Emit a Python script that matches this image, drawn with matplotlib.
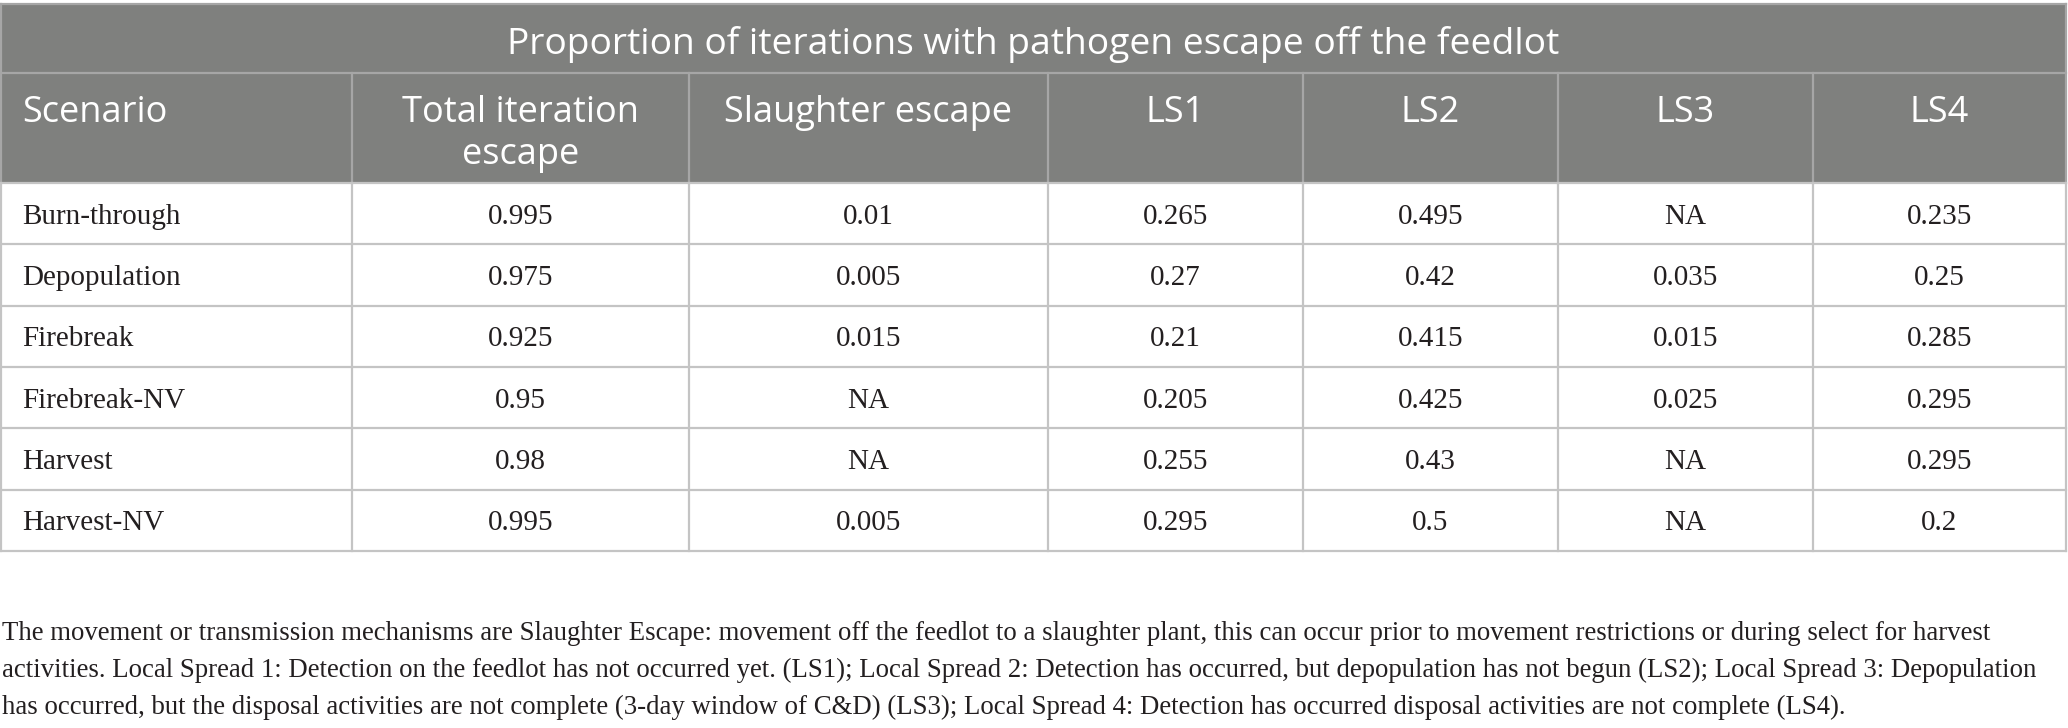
import matplotlib
matplotlib.use("Agg")
import matplotlib.pyplot as plt
from matplotlib.patches import Rectangle

# ---- data ----
title = "Proportion of iterations with pathogen escape off the feedlot"
columns = ["Scenario", "Total iteration\nescape", "Slaughter escape", "LS1", "LS2", "LS3", "LS4"]
scenarios = ["Burn-through", "Depopulation", "Firebreak", "Firebreak-NV", "Harvest", "Harvest-NV"]
total_escape = [0.995, 0.975, 0.925, 0.95, 0.98, 0.995]
slaughter_escape = [0.01, 0.005, 0.015, None, None, 0.005]
ls1 = [0.265, 0.27, 0.21, 0.205, 0.255, 0.295]
ls2 = [0.495, 0.42, 0.415, 0.425, 0.43, 0.5]
ls3 = [None, 0.035, 0.015, 0.025, None, None]
ls4 = [0.235, 0.25, 0.285, 0.295, 0.295, 0.2]
footnote_lines = [
    "The movement or transmission mechanisms are Slaughter Escape: movement off the feedlot to a slaughter plant, this can occur prior to movement restrictions or during select for harvest",
    "activities. Local Spread 1: Detection on the feedlot has not occurred yet. (LS1); Local Spread 2: Detection has occurred, but depopulation has not begun (LS2); Local Spread 3: Depopulation",
    "has occurred, but the disposal activities are not complete (3-day window of C&D) (LS3); Local Spread 4: Detection has occurred disposal activities are not complete (LS4).",
]

def fmt(v):
    return "NA" if v is None else f"{v:g}"

series = [total_escape, slaughter_escape, ls1, ls2, ls3, ls4]

# ---- layout (pixels) ----
W, H = 2068, 728
col_edges = [1, 352, 689, 1048, 1303, 1558, 1813, 2066]
y_top, y_title, y_head = 4, 73, 183
row_h = 61.3
n_rows = len(scenarios)
y_bottom = y_head + n_rows * row_h

HEAD_BG = "#7f807e"
HEAD_LINE = "#a6a6a6"
BODY_LINE = "#c4c4c4"
TXT = "#231f20"
SANS = ["Open Sans", "DejaVu Sans"]
SERIF = ["Liberation Serif", "DejaVu Serif"]

fig = plt.figure(figsize=(W / 100, H / 100), dpi=100)
ax = fig.add_axes([0, 0, 1, 1])
ax.set_xlim(0, W)
ax.set_ylim(H, 0)
ax.axis("off")
fig.patch.set_facecolor("white")

renderer = fig.canvas.get_renderer()

def fit(t, target_w):
    bb = t.get_window_extent(renderer=renderer)
    t.set_fontsize(t.get_fontsize() * target_w / bb.width)

# header background
ax.add_patch(Rectangle((col_edges[0], y_top), col_edges[-1] - col_edges[0], y_head - y_top,
                       facecolor=HEAD_BG, edgecolor="none", zorder=1))

# grid lines
lw = 1.6
ax.plot([col_edges[0], col_edges[-1]], [y_top, y_top], color=HEAD_LINE, lw=lw, zorder=2)
ax.plot([col_edges[0], col_edges[-1]], [y_title, y_title], color=HEAD_LINE, lw=lw, zorder=2)
for x in col_edges[1:-1]:
    ax.plot([x, x], [y_title, y_head], color=HEAD_LINE, lw=lw, zorder=2)
    ax.plot([x, x], [y_head, y_bottom], color=BODY_LINE, lw=lw, zorder=2)
for x in (col_edges[0], col_edges[-1]):
    ax.plot([x, x], [y_top, y_head], color=HEAD_LINE, lw=lw, zorder=2)
    ax.plot([x, x], [y_head, y_bottom], color=BODY_LINE, lw=lw, zorder=2)
for i in range(n_rows + 1):
    y = y_head + i * row_h
    ax.plot([col_edges[0], col_edges[-1]], [y, y], color=BODY_LINE, lw=lw, zorder=2)

# title
t = ax.text((col_edges[0] + col_edges[-1]) / 2, 54, title, ha="center", va="baseline",
            color="white", family=SANS, fontsize=25, zorder=3)
fit(t, 1057)

# column headers
head_fs = 26
for j, name in enumerate(columns):
    lines = name.split("\n")
    for k, ln in enumerate(lines):
        if j == 0:
            x, ha = col_edges[0] + 21, "left"
        else:
            x, ha = (col_edges[j] + col_edges[j + 1]) / 2, "center"
        ax.text(x, 122 + k * 42, ln, ha=ha, va="baseline", color="white",
                family=SANS, fontsize=head_fs, zorder=3)

# body
body_fs = 21
for i, sc in enumerate(scenarios):
    yb = y_head + i * row_h + row_h / 2 + 10
    ax.text(col_edges[0] + 21, yb, sc, ha="left", va="baseline", color=TXT,
            family=SERIF, fontsize=body_fs, zorder=3)
    for j, s in enumerate(series):
        xc = (col_edges[j + 1] + col_edges[j + 2]) / 2
        ax.text(xc, yb, fmt(s[i]), ha="center", va="baseline", color=TXT,
                family=SERIF, fontsize=body_fs, zorder=3)

# footnote
fn_base = [640, 677, 714]
targets = [1990, 2026, None]
fs0 = 19
tt = []
for ln, yb in zip(footnote_lines, fn_base):
    tt.append(ax.text(2, yb, ln, ha="left", va="baseline", color=TXT,
                      family=SERIF, fontsize=fs0, zorder=3))
fit(tt[0], 1990)
for o in tt[1:]:
    o.set_fontsize(tt[0].get_fontsize())

fig.savefig("out.png", dpi=100, facecolor="white")
